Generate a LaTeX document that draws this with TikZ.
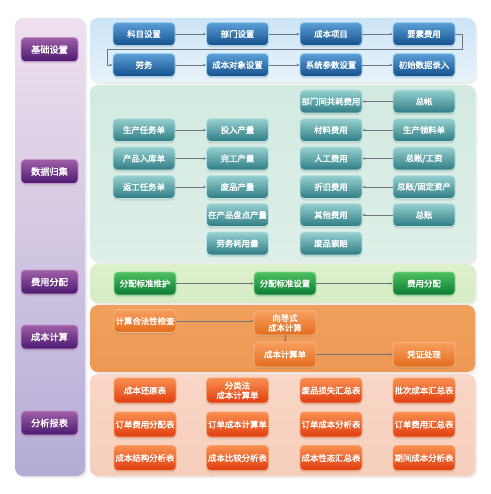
\documentclass[tikz,border=0pt]{standalone}
\usepackage{fontspec}
\newfontfamily\cjk[AutoFakeBold=1.6]{Noto Sans CJK SC}
\usetikzlibrary{arrows.meta,shadows}
\definecolor{lnk}{HTML}{6E7680}
\begin{document}
\begin{tikzpicture}[x=1pt,y=-1pt,
  panel/.style={rounded corners=8pt, draw=none},
  box/.style={rounded corners=4pt, minimum width=62pt, minimum height=23pt, inner sep=0pt,
     font=\cjk\bfseries\fontsize{8.4}{9.8}\selectfont, text=white, align=center, line width=0.8pt,
     drop shadow={opacity=0.22, shadow xshift=0pt, shadow yshift=-2pt}},
  bluebox/.style={box, top color={rgb,255:red,92;green,160;blue,216}, bottom color={rgb,255:red,20;green,80;blue,140}, draw={rgb,255:red,160;green,208;blue,240}},
  tealbox/.style={box, top color={rgb,255:red,150;green,208;blue,208}, bottom color={rgb,255:red,46;green,124;blue,132}, draw={rgb,255:red,186;green,224;blue,224}},
  greenbox/.style={box, top color={rgb,255:red,76;green,192;blue,96}, bottom color={rgb,255:red,11;green,122;blue,50}, draw={rgb,255:red,138;green,216;blue,144}},
  orangebox/.style={box, top color={rgb,255:red,246;green,160;blue,96}, bottom color={rgb,255:red,228;green,108;blue,28}, draw={rgb,255:red,248;green,184;blue,128}},
  redbox/.style={box, minimum height=25pt, top color={rgb,255:red,248;green,144;blue,80}, bottom color={rgb,255:red,224;green,60;blue,16}, draw={rgb,255:red,246;green,160;blue,112}},
  purplebox/.style={box, minimum width=57pt, minimum height=24pt, font=\cjk\bfseries\fontsize{9.2}{10}\selectfont, top color={rgb,255:red,160;green,96;blue,168}, bottom color={rgb,255:red,74;green,24;blue,112}, draw={rgb,255:red,200;green,144;blue,200}},
  arr/.style={draw=lnk, line width=0.6pt, -{Stealth[length=3pt,width=2.5pt]}}
]
\useasboundingbox (0,0) rectangle (490,494);
\fill[white] (0,0) rectangle (490,494);

% left column
\shade[panel, top color={rgb,255:red,238;green,224;blue,238}, bottom color={rgb,255:red,181;green,172;blue,214}, drop shadow={opacity=0.15}] (15,18) rectangle (85,476);

% panels
\shade[panel, top color={rgb,255:red,204;green,228;blue,246}, bottom color={rgb,255:red,232;green,243;blue,251}, drop shadow={opacity=0.15}] (90,18) rectangle (475,82);
\shade[panel, top color={rgb,255:red,210;green,234;blue,224}, bottom color={rgb,255:red,222;green,239;blue,232}, drop shadow={opacity=0.15}] (90,85) rectangle (475,262);
\shade[panel, top color={rgb,255:red,220;green,240;blue,204}, middle color={rgb,255:red,242;green,249;blue,234}, bottom color={rgb,255:red,214;green,236;blue,196}, drop shadow={opacity=0.15}] (90,264) rectangle (475,303);
\shade[panel, top color={rgb,255:red,240;green,160;blue,92}, middle color={rgb,255:red,250;green,216;blue,184}, bottom color={rgb,255:red,238;green,152;blue,84}, drop shadow={opacity=0.15}] (90,305) rectangle (475,372);
\shade[panel, top color={rgb,255:red,249;green,214;blue,198}, middle color={rgb,255:red,253;green,240;blue,234}, bottom color={rgb,255:red,247;green,206;blue,188}, drop shadow={opacity=0.15}] (90,374) rectangle (475,476);

% left labels
\node[purplebox] (L1) at (49.5,49.5) {基础设置};
\node[purplebox] (L2) at (49.5,171.5) {数据归集};
\node[purplebox] (L3) at (49.5,282) {费用分配};
\node[purplebox] (L4) at (49.5,337) {成本计算};
\node[purplebox] (L5) at (49.5,423) {分析报表};

% basic settings
\node[bluebox] (b1) at (144,34) {科目设置};
\node[bluebox] (b2) at (237.5,34) {部门设置};
\node[bluebox] (b3) at (331,34) {成本项目};
\node[bluebox] (b4) at (424,34) {要素费用};
\node[bluebox] (b5) at (144,65) {劳务};
\node[bluebox] (b6) at (237.5,65) {成本对象设置};
\node[bluebox] (b7) at (331,65) {系统参数设置};
\node[bluebox] (b8) at (424,65) {初始数据录入};
\coordinate (t1) at (462,49.5);
\coordinate (t2) at (107,49.5);
\draw[arr] (b1) -- (b2);
\draw[arr] (b2) -- (b3);
\draw[arr] (b3) -- (b4);
\draw[arr] (b4.east) -| (t1) -- (t2) |- (b5.west);
\draw[arr] (b5) -- (b6);
\draw[arr] (b6) -- (b7);
\draw[arr] (b7) -- (b8);

% data collection
\node[tealbox] (d1) at (144,130) {生产任务单};
\node[tealbox] (d2) at (144,158.5) {产品入库单};
\node[tealbox] (d3) at (144,187) {返工任务单};
\node[tealbox] (e1) at (237.5,130) {投入产量};
\node[tealbox] (e2) at (237.5,158.5) {完工产量};
\node[tealbox] (e3) at (237.5,187) {废品产量};
\node[tealbox] (e4) at (237.5,215) {在产品盘点产量};
\node[tealbox] (e5) at (237.5,243.5) {劳务耗用量};
\node[tealbox] (f1) at (331,101.5) {部门间共耗费用};
\node[tealbox] (f2) at (331,130) {材料费用};
\node[tealbox] (f3) at (331,158.5) {人工费用};
\node[tealbox] (f4) at (331,187) {折旧费用};
\node[tealbox] (f5) at (331,215) {其他费用};
\node[tealbox] (f6) at (331,243.5) {废品索赔};
\node[tealbox] (g1) at (424,101.5) {总帐};
\node[tealbox] (g2) at (424,130) {生产领料单};
\node[tealbox] (g3) at (424,158.5) {总账/工资};
\node[tealbox] (g4) at (424,187) {总账/固定资产};
\node[tealbox] (g5) at (424,215) {总账};
\draw[arr] (d1) -- (e1);
\draw[arr] (d2) -- (e2);
\draw[arr] (d3) -- (e3);
\draw[arr] (g1) -- (f1);
\draw[arr] (g2) -- (f2);
\draw[arr] (g3) -- (f3);
\draw[arr] (g4) -- (f4);
\draw[arr] (g5) -- (f5);

% allocation
\node[greenbox] (h1) at (145,283.5) {分配标准维护};
\node[greenbox] (h2) at (285,283.5) {分配标准设置};
\node[greenbox] (h3) at (424,283.5) {费用分配};
\draw[arr] (h1) -- (h2);
\draw[arr] (h2) -- (h3);

% cost calculation
\node[orangebox] (k1) at (145,321) {计算合法性检查};
\node[orangebox, minimum height=24pt] (k2) at (285,323) {向导式\\成本计算};
\node[orangebox, minimum height=25pt] (k3) at (285,354.5) {成本计算单};
\node[orangebox, minimum height=25pt] (k4) at (424,354.5) {凭证处理};
\draw[arr] (k1.east) -- (k1.east -| k2.west);
\draw[arr] (k2) -- (k3);
\draw[arr] (k3) -- (k4);

% reports
\node[redbox] (r1) at (145,390.5) {成本还原表};
\node[redbox] (r2) at (237.5,390.5) {分类法\\成本计算单};
\node[redbox] (r3) at (331,390.5) {废品损失汇总表};
\node[redbox] (r4) at (424,390.5) {批次成本汇总表};
\node[redbox] (r5) at (145,424.5) {订单费用分配表};
\node[redbox] (r6) at (237.5,424.5) {订单成本计算单};
\node[redbox] (r7) at (331,424.5) {订单成本分析表};
\node[redbox] (r8) at (424,424.5) {订单费用汇总表};
\node[redbox] (r9) at (145,458) {成本结构分析表};
\node[redbox] (r10) at (237.5,458) {成本比较分析表};
\node[redbox] (r11) at (331,458) {成本性态汇总表};
\node[redbox] (r12) at (424,458) {期间成本分析表};
\end{tikzpicture}
\end{document}
